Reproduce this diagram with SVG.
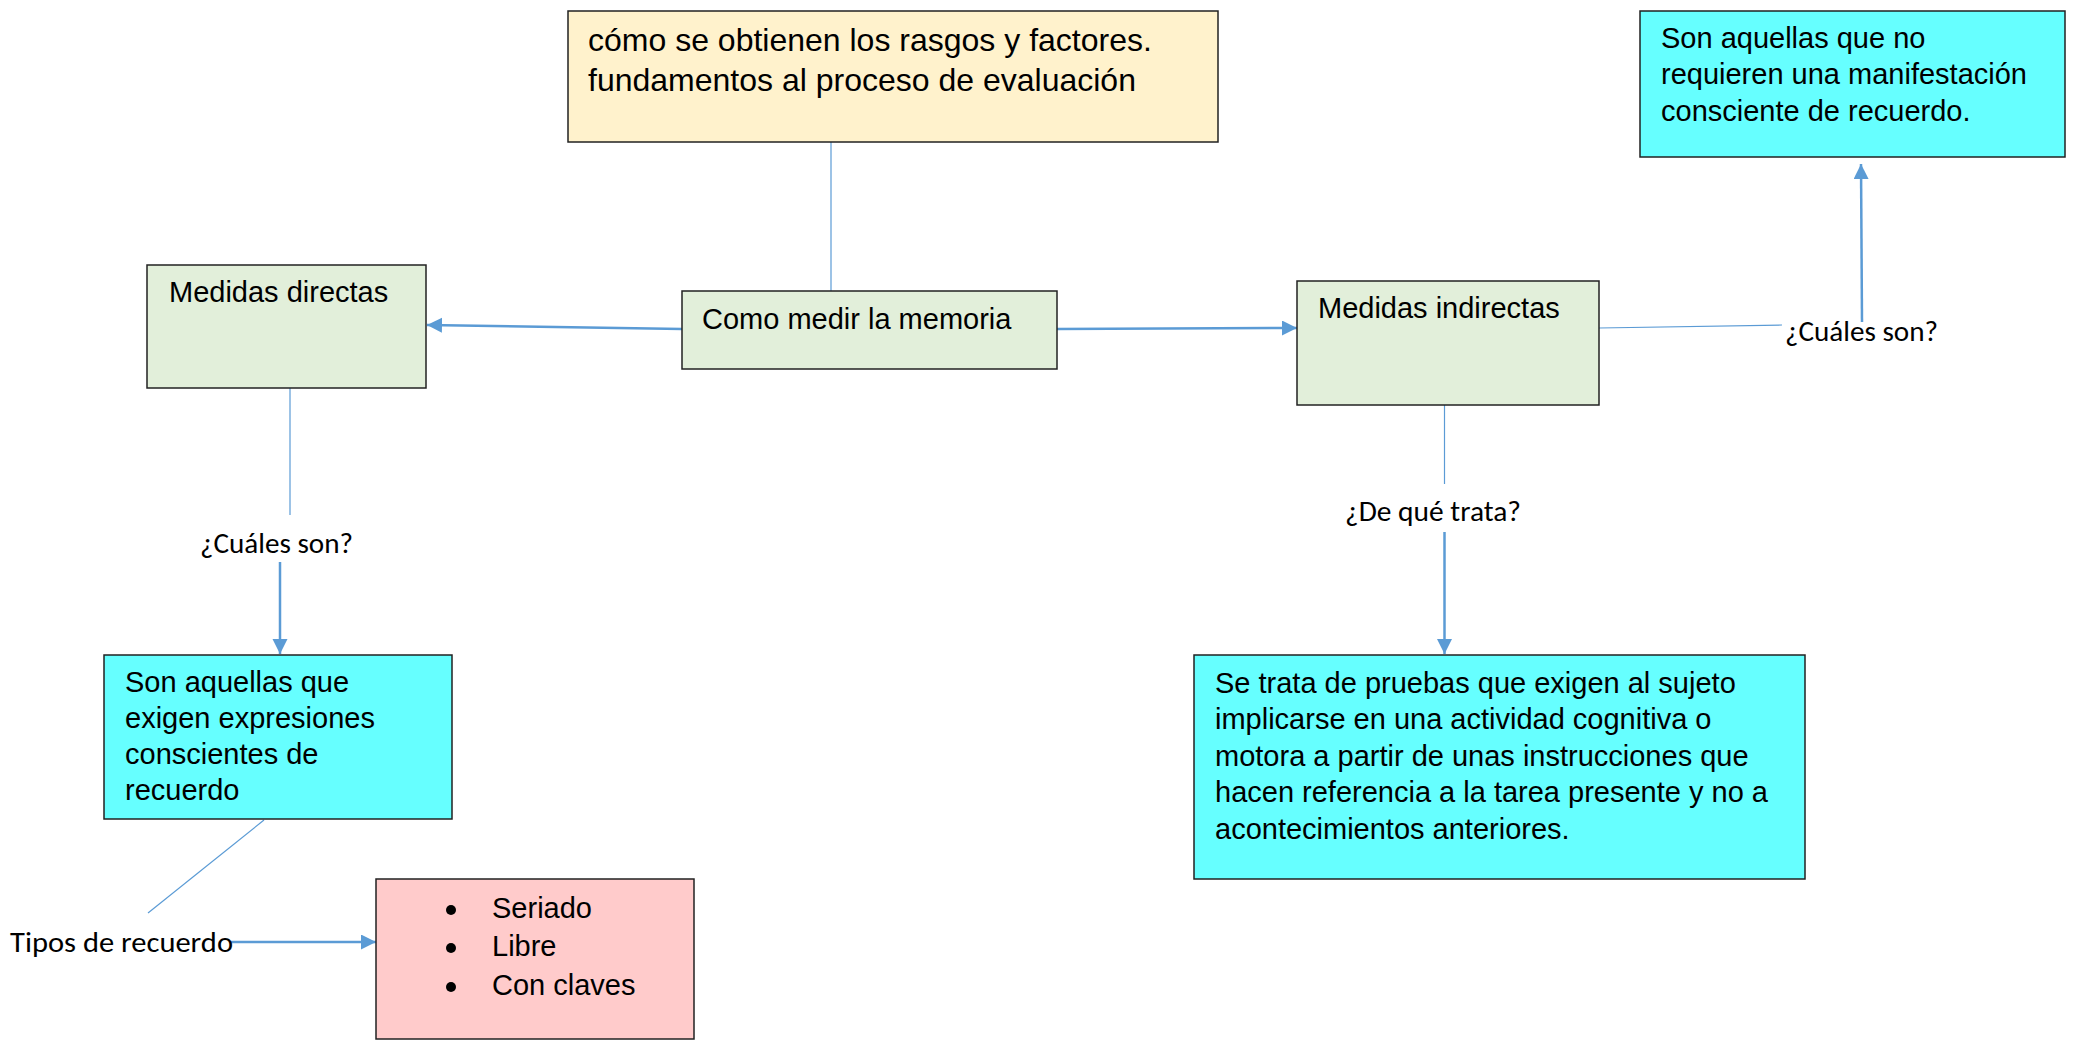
<svg xmlns="http://www.w3.org/2000/svg" width="2076" height="1040" viewBox="0 0 2076 1040">
<style>
.box{stroke:#222;stroke-width:1.5}
.green{fill:#E2EFDA}
.yellow{fill:#FFF2CC}
.cyan{fill:#66FFFF}
.pink{fill:#FFCBCB}
.t{font-family:"Liberation Sans",Arial,sans-serif;font-size:29px;fill:#000}
.big{font-size:32px}
.lbl{font-family:Carlito,Lato,"Liberation Sans",sans-serif;font-size:29px;fill:#000}
.thin{stroke:#5B9BD5;stroke-width:1.2;fill:none}
.thick{stroke:#5B9BD5;stroke-width:2.5;fill:none;marker-end:url(#arr)}
</style>
<defs>
<marker id="arr" markerUnits="userSpaceOnUse" markerWidth="16" markerHeight="16" refX="15" refY="7.5" orient="auto">
<path d="M0,0 L15,7.5 L0,15 z" fill="#5B9BD5"/>
</marker>
</defs>
<rect width="2076" height="1040" fill="#fff"/>
<g id="connectors">
<line class="thin" x1="831" y1="142" x2="831" y2="291"/>
<line class="thick" x1="682" y1="329" x2="427" y2="325"/>
<line class="thick" x1="1057" y1="329" x2="1297" y2="328"/>
<line class="thin" x1="290" y1="388" x2="290" y2="515"/>
<line class="thick" x1="280" y1="562" x2="280" y2="654"/>
<line class="thin" x1="264" y1="820" x2="148" y2="913"/>
<line class="thick" x1="230" y1="942" x2="376" y2="942"/>
<line class="thin" x1="1599" y1="328" x2="1782" y2="325"/>
<line class="thick" x1="1862" y1="322" x2="1861" y2="164"/>
<line class="thin" x1="1444.5" y1="405" x2="1444.5" y2="484"/>
<line class="thick" x1="1444.5" y1="532" x2="1444.5" y2="654"/>
</g>
<g id="labels">
<text class="lbl" x="200" y="553" textLength="153" lengthAdjust="spacingAndGlyphs">¿Cuáles son?</text>
<text class="lbl" x="1785" y="341" textLength="153" lengthAdjust="spacingAndGlyphs">¿Cuáles son?</text>
<text class="lbl" x="1345" y="521" textLength="176" lengthAdjust="spacingAndGlyphs">¿De qué trata?</text>
<text class="lbl" x="10" y="952" textLength="223" lengthAdjust="spacingAndGlyphs">Tipos de recuerdo</text>
</g>
<g id="node-fundamentos">
<rect class="box yellow" x="568" y="11" width="650" height="131"/>
<text class="t big" x="588" y="51">cómo se obtienen los rasgos y factores.</text>
<text class="t big" x="588" y="91">fundamentos al proceso de evaluación</text>
</g>
<g id="node-como-medir">
<rect class="box green" x="682" y="291" width="375" height="78"/>
<text class="t" x="702" y="329">Como medir la memoria</text>
</g>
<g id="node-directas">
<rect class="box green" x="147" y="265" width="279" height="123"/>
<text class="t" x="169" y="302">Medidas directas</text>
</g>
<g id="node-indirectas">
<rect class="box green" x="1297" y="281" width="302" height="124"/>
<text class="t" x="1318" y="318">Medidas indirectas</text>
</g>
<g id="node-directas-def">
<rect class="box cyan" x="104" y="655" width="348" height="164"/>
<text class="t" x="125" y="692">Son aquellas que</text>
<text class="t" x="125" y="728">exigen expresiones</text>
<text class="t" x="125" y="764">conscientes de</text>
<text class="t" x="125" y="800">recuerdo</text>
</g>
<g id="node-tipos">
<rect class="box pink" x="376" y="879" width="318" height="160"/>
<circle cx="451" cy="910" r="5" fill="#000"/>
<circle cx="451" cy="948" r="5" fill="#000"/>
<circle cx="451" cy="987" r="5" fill="#000"/>
<text class="t" x="492" y="918">Seriado</text>
<text class="t" x="492" y="956">Libre</text>
<text class="t" x="492" y="995">Con claves</text>
</g>
<g id="node-indirectas-def">
<rect class="box cyan" x="1640" y="11" width="425" height="146"/>
<text class="t" x="1661" y="48">Son aquellas que no</text>
<text class="t" x="1661" y="84">requieren una manifestación</text>
<text class="t" x="1661" y="121">consciente de recuerdo.</text>
</g>
<g id="node-trata">
<rect class="box cyan" x="1194" y="655" width="611" height="224"/>
<text class="t" x="1215" y="693">Se trata de pruebas que exigen al sujeto</text>
<text class="t" x="1215" y="729">implicarse en una actividad cognitiva o</text>
<text class="t" x="1215" y="766">motora a partir de unas instrucciones que</text>
<text class="t" x="1215" y="802">hacen referencia a la tarea presente y no a</text>
<text class="t" x="1215" y="839">acontecimientos anteriores.</text>
</g>
</svg>
